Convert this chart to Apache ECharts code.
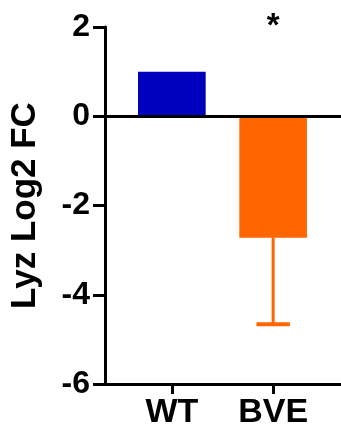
<!DOCTYPE html>
<html>
<head>
<meta charset="utf-8">
<script src="https://cdn.jsdelivr.net/npm/echarts@6/dist/echarts.min.js"></script>
<style>
  html, body { margin: 0; padding: 0; background: #fff; }
  #chart { width: 341px; height: 436px; }
</style>
</head>
<body>
<div id="chart"></div>
<script>
// Groups, their mean log2 fold change, error (drawn in the bar's direction) and significance marks
const groups = ['WT', 'BVE'];
const means = [1.0, -2.72];
const errors = [0, 1.94];
const significance = ['', '*'];
const barColors = ['#0000BF', '#FF6600'];
const yTicks = [-6, -4, -2, 0, 2];

const FONT = '"Liberation Sans", Arial, sans-serif';
const BAR_HALF = 0.334;   // half bar width in category units
const CAP_HALF = 0.165;   // half error-cap width in category units

const chart = echarts.init(document.getElementById('chart'));

const rows = groups.map((g, i) => [i, means[i], errors[i], i]);

chart.setOption({
  animation: false,
  backgroundColor: '#ffffff',
  grid: { left: 104, right: 0, top: 27, bottom: 52, containLabel: false },
  xAxis: {
    type: 'value',
    min: -0.66,
    max: 1.67,
    splitLine: { show: false },
    axisLine: { show: true, onZero: false, lineStyle: { color: '#000', width: 3 } },
    axisTick: {
      show: true, length: 10, customValues: [0, 1],
      lineStyle: { color: '#000', width: 3 }
    },
    axisLabel: {
      customValues: [0, 1],
      formatter: v => groups[Math.round(v)] || '',
      color: '#000', fontFamily: FONT, fontWeight: 'bold', fontSize: 34, margin: 12
    }
  },
  yAxis: {
    type: 'value',
    min: yTicks[0],
    max: yTicks[yTicks.length - 1],
    interval: 2,
    name: 'Lyz Log2 FC',
    nameLocation: 'middle',
    nameGap: 62,
    nameTextStyle: { color: '#000', fontFamily: FONT, fontWeight: 'bold', fontSize: 35 },
    splitLine: { show: false },
    axisLine: { show: true, onZero: false, lineStyle: { color: '#000', width: 3 } },
    axisTick: { show: true, length: 12, lineStyle: { color: '#000', width: 3 } },
    axisLabel: {
      color: '#000', fontFamily: FONT, fontWeight: 'bold', fontSize: 32, margin: 15
    }
  },
  series: [
    {
      type: 'custom',
      data: rows,
      encode: { x: 0, y: 1 },
      renderItem: (params, api) => {
        const x = api.value(0);
        const m = api.value(1);
        const e = api.value(2);
        const idx = api.value(3);
        const tl = api.coord([x - BAR_HALF, Math.max(m, 0)]);
        const br = api.coord([x + BAR_HALF, Math.min(m, 0)]);
        const children = [{
          type: 'rect',
          shape: { x: tl[0], y: tl[1], width: br[0] - tl[0], height: br[1] - tl[1] },
          style: { fill: barColors[idx] }
        }];
        if (e > 0) {
          const end = m < 0 ? m - e : m + e;
          const p0 = api.coord([x, m]);
          const p1 = api.coord([x, end]);
          const c0 = api.coord([x - CAP_HALF, end]);
          const c1 = api.coord([x + CAP_HALF, end]);
          children.push({
            type: 'line',
            shape: { x1: p0[0], y1: p0[1], x2: p1[0], y2: p1[1] },
            style: { stroke: barColors[idx], lineWidth: 3 }
          });
          children.push({
            type: 'line',
            shape: { x1: c0[0], y1: c0[1], x2: c1[0], y2: c1[1] },
            style: { stroke: barColors[idx], lineWidth: 4 }
          });
        }
        if (significance[idx]) {
          const top = api.coord([x, yTicks[yTicks.length - 1]]);
          children.push({
            type: 'text',
            style: {
              x: top[0], y: top[1], text: significance[idx],
              align: 'center', verticalAlign: 'middle',
              font: 'bold 33px ' + FONT, fill: '#000'
            }
          });
        }
        return { type: 'group', children };
      },
      markLine: {
        silent: true,
        symbol: ['none', 'none'],
        label: { show: false },
        lineStyle: { color: '#000', width: 3, type: 'solid' },
        data: [{ yAxis: 0 }],
        z: 10
      }
    }
  ]
});
</script>
</body>
</html>
